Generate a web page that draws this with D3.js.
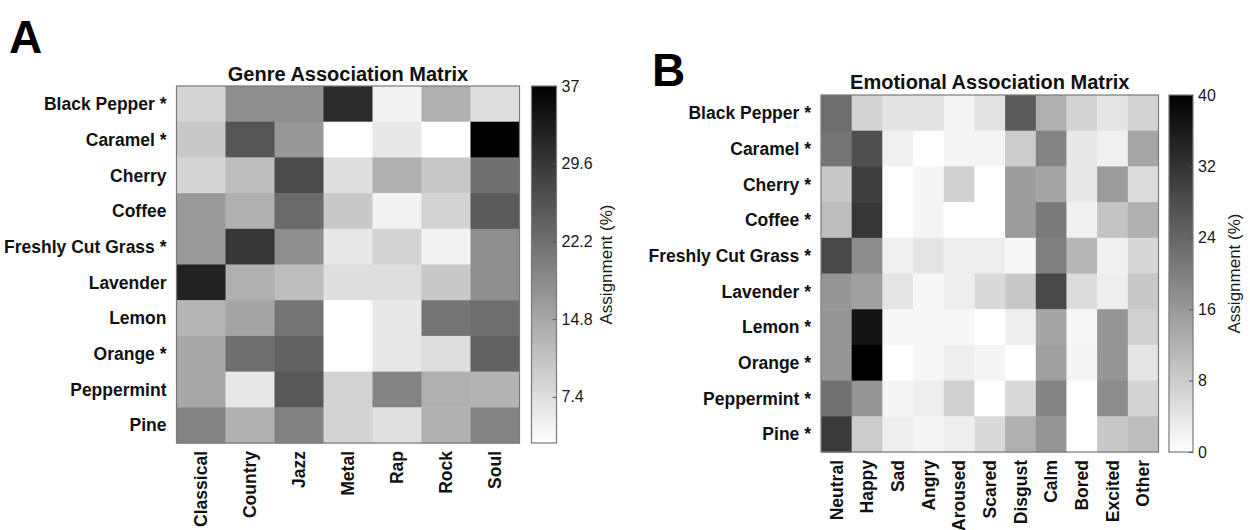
<!DOCTYPE html>
<html>
<head>
<meta charset="utf-8">
<script src="https://cdn.jsdelivr.net/npm/d3@7"></script>
<style>
  html, body { margin: 0; padding: 0; background: #fff; }
  svg { display: block; font-family: "Liberation Sans", Arial, sans-serif; }
</style>
</head>
<body>
<svg id="chart" width="1250" height="530"></svg>
<script>
// ---------- DATA ----------
const genreRows = ["Black Pepper *", "Caramel *", "Cherry", "Coffee", "Freshly Cut Grass *",
                   "Lavender", "Lemon", "Orange *", "Peppermint", "Pine"];
const genreCols = ["Classical", "Country", "Jazz", "Metal", "Rap", "Rock", "Soul"];
const genreValues = [
  [ 8.6, 18.1, 18.1, 31.1,  4.6, 13.5,  7.4],
  [10.3, 25.7, 16.7,  3.0,  6.1,  3.0, 37.0],
  [ 8.6, 11.8, 27.1,  7.4, 13.5, 10.3, 22.1],
  [16.5, 13.5, 22.9, 10.3,  4.6,  8.9, 25.0],
  [16.5, 29.8, 18.1,  6.1,  8.9,  4.6, 18.1],
  [32.5, 13.5, 11.8,  7.4,  7.4, 10.3, 18.1],
  [12.9, 15.0, 21.4,  3.0,  6.1, 21.4, 22.3],
  [14.6, 22.3, 23.9,  3.0,  6.1,  7.4, 23.9],
  [14.6,  6.1, 25.3,  8.9, 19.4, 13.5, 13.1],
  [19.4, 13.5, 19.7,  8.9,  7.1, 13.5, 19.4]
];
const genreTicks = [7.4, 14.8, 22.2, 29.6, 37];
const genreRange = [3, 37];

const emoRows = ["Black Pepper *", "Caramel *", "Cherry *", "Coffee *", "Freshly Cut Grass *",
                 "Lavender *", "Lemon *", "Orange *", "Peppermint *", "Pine *"];
const emoCols = ["Neutral", "Happy", "Sad", "Angry", "Aroused", "Scared", "Disgust",
                 "Calm", "Bored", "Excited", "Other"];
const emoValues = [
  [22.7,  6.9, 4.4, 4.4, 1.6, 4.4, 25.9, 12.4,  6.9,  4.1,  6.9],
  [21.6, 27.5, 2.4, 0.0, 1.6, 1.6,  8.0, 19.3,  3.6,  2.4, 14.0],
  [ 8.6, 30.3, 0.0, 1.6, 7.4, 0.0, 15.5, 14.1,  3.6, 15.5,  5.5],
  [10.4, 31.5, 0.0, 1.6, 0.0, 0.0, 15.5, 20.9,  2.4,  9.4, 12.4],
  [28.7, 18.0, 2.4, 4.1, 2.7, 2.7,  1.3, 19.9, 11.1,  2.4,  6.1],
  [16.5, 14.9, 4.1, 1.3, 2.7, 5.8,  8.6, 28.7,  5.5,  2.7,  8.6],
  [16.5, 36.9, 1.3, 1.3, 1.3, 0.0,  2.7, 14.1,  1.3, 16.5,  7.4],
  [16.5, 40.0, 0.0, 1.3, 2.7, 1.6,  0.0, 14.9,  1.6, 16.5,  4.1],
  [22.1, 16.5, 1.6, 2.7, 7.4, 0.0,  5.8, 19.3,  0.0, 18.0,  6.9],
  [30.9,  8.0, 2.7, 1.6, 2.7, 5.8, 12.4, 16.5,  0.0,  8.6, 10.4]
];
const emoTicks = [0, 8, 16, 24, 32, 40];
const emoRange = [0, 40];

// ---------- DRAW ----------
const svg = d3.select("#chart");
const defs = svg.append("defs");

function panel(opt) {
  const g = svg.append("g");
  const x = d3.scaleBand().domain(opt.cols).range([opt.x0, opt.x1]).padding(0);
  const y = d3.scaleBand().domain(opt.rows).range([opt.y0, opt.y1]).padding(0);
  const color = d3.scaleLinear().domain(opt.range).range(["#ffffff", "#000000"]).clamp(true);

  const cells = [];
  opt.values.forEach((row, i) => row.forEach((v, j) => cells.push({r: opt.rows[i], c: opt.cols[j], v})));
  g.selectAll("rect.cell").data(cells).enter().append("rect")
    .attr("class", "cell")
    .attr("x", d => x(d.c)).attr("y", d => y(d.r))
    .attr("width", x.bandwidth() + 0.5).attr("height", y.bandwidth() + 0.5)
    .attr("fill", d => color(d.v));

  g.append("rect")
    .attr("x", opt.x0).attr("y", opt.y0)
    .attr("width", opt.x1 - opt.x0).attr("height", opt.y1 - opt.y0)
    .attr("fill", "none").attr("stroke", "#7a7a7a").attr("stroke-width", 1.2);

  // row labels
  g.selectAll("text.row").data(opt.rows).enter().append("text")
    .attr("class", "row")
    .attr("x", opt.x0 - 10)
    .attr("y", d => y(d) + y.bandwidth() / 2)
    .attr("dy", "0.36em")
    .attr("text-anchor", "end")
    .style("font-size", "17.5px").style("font-weight", "bold").style("fill", "#111")
    .text(d => d);

  // column labels (rotated)
  g.selectAll("text.col").data(opt.cols).enter().append("text")
    .attr("class", "col")
    .attr("transform", d => `translate(${x(d) + x.bandwidth() / 2},${opt.y1 + 8}) rotate(-90)`)
    .attr("dy", "0.36em")
    .attr("text-anchor", "end")
    .style("font-size", "17.5px").style("font-weight", "bold").style("fill", "#111")
    .text(d => d);

  // title
  g.append("text")
    .attr("x", (opt.x0 + opt.x1) / 2).attr("y", opt.titleY)
    .attr("text-anchor", "middle")
    .style("font-size", "20px").style("font-weight", "bold").style("fill", "#111")
    .text(opt.title);

  // panel letter
  g.append("text")
    .attr("x", opt.letterX).attr("y", opt.letterY)
    .style("font-size", "46px").style("font-weight", "bold").style("fill", "#000")
    .text(opt.letter);

  // colorbar
  const gid = "grad" + opt.letter;
  const grad = defs.append("linearGradient").attr("id", gid)
    .attr("x1", 0).attr("y1", 1).attr("x2", 0).attr("y2", 0);
  grad.append("stop").attr("offset", "0%").attr("stop-color", color(opt.range[0]));
  grad.append("stop").attr("offset", "100%").attr("stop-color", color(opt.range[1]));
  g.append("rect")
    .attr("x", opt.cbX0).attr("y", opt.y0)
    .attr("width", opt.cbX1 - opt.cbX0).attr("height", opt.y1 - opt.y0)
    .attr("fill", `url(#${gid})`).attr("stroke", "#7a7a7a").attr("stroke-width", 1.2);

  const cy = d3.scaleLinear().domain(opt.range).range([opt.y1, opt.y0]);
  const axis = d3.axisRight(cy).tickValues(opt.ticks).tickSize(4).tickSizeOuter(0)
    .tickFormat(d3.format("~g"));
  const ag = g.append("g").attr("transform", `translate(${opt.cbX1 - 4},0)`).call(axis);
  ag.select(".domain").remove();
  ag.selectAll(".tick line").attr("stroke", "#555");
  ag.selectAll(".tick text")
    .attr("x", 9)
    .style("font-size", "16px").style("fill", "#1a1a1a")
    .style("font-family", "'Liberation Sans', Arial, sans-serif");

  g.append("text")
    .attr("transform", `translate(${opt.labelX},${(opt.y0 + opt.y1) / 2}) rotate(-90)`)
    .attr("text-anchor", "middle")
    .style("font-size", "17px").style("fill", "#1a1a1a")
    .text("Assignment (%)");
}

panel({
  rows: genreRows, cols: genreCols, values: genreValues, range: genreRange, ticks: genreTicks,
  x0: 176.5, x1: 519.5, y0: 86, y1: 443,
  cbX0: 531.5, cbX1: 556.5, labelX: 612,
  title: "Genre Association Matrix", titleY: 81,
  letter: "A", letterX: 9, letterY: 53
});

panel({
  rows: emoRows, cols: emoCols, values: emoValues, range: emoRange, ticks: emoTicks,
  x0: 821, x1: 1158.5, y0: 95, y1: 452,
  cbX0: 1169, cbX1: 1193, labelX: 1240,
  title: "Emotional Association Matrix", titleY: 89,
  letter: "B", letterX: 652, letterY: 86
});
</script>
</body>
</html>
